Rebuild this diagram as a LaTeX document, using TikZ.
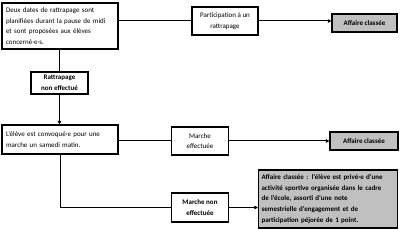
\documentclass[tikz,border=0pt]{standalone}
\usepackage{fontspec}
\setmainfont{Carlito}
\usetikzlibrary{positioning,arrows.meta}
\definecolor{classgrey}{RGB}{192,192,192}

\begin{document}
\begin{tikzpicture}[
  x=1pt,y=-1pt,
  >={Triangle[length=3.5pt,width=3.5pt]},
  font=\fontsize{7}{10.6}\selectfont,
  box/.style={draw,line width=1.1pt,inner sep=3pt,align=center},
  infobox/.style={box,align=left,text width=108pt,minimum width=116pt,minimum height=#1},
  stepbox/.style={box,minimum width=57pt,minimum height=#1},
  outcome/.style={box,fill=classgrey,font=\fontsize{7}{10.6}\selectfont\bfseries},
  link/.style={line width=1pt},
  arrow/.style={->,line width=1pt}
]
\useasboundingbox (0,0) rectangle (400,230);

\node[infobox=46pt] (rattr) at (60,26) {Deux dates de rattrapage sont\\planifiées durant la pause de midi\\et sont proposées aux élèves\\concerné·e·s.};
\node[stepbox=28pt,minimum width=66pt] (part) at (225,21) {Participation à un\\rattrapage};
\node[outcome,minimum width=65pt,minimum height=18pt] (classee1) at (364.5,23) {Affaire classée};
\node[stepbox=22pt,font=\fontsize{7}{10.6}\selectfont\bfseries] (nonrattr) at (59.5,83) {Rattrapage\\non effectué};
\node[infobox=29pt] (marche) at (60,139.5) {L’élève est convoqué·e pour une\\marche un samedi matin.};
\node[stepbox=28pt] (faite) at (200,141) {Marche\\effectuée};
\node[outcome,minimum width=68pt,minimum height=18pt] (classee2) at (364,141) {Affaire classée};
\node[stepbox=29pt,font=\fontsize{7}{10.6}\selectfont\bfseries] (pasfaite) at (200,207.5) {Marche non\\effectuée};
\node[outcome,align=left,text width=133pt,minimum height=58pt] (prive) at (328,199) {Affaire classée : l’élève est privé·e d’une\\activité sportive organisée dans le cadre\\de l’école, assorti d’une note\\semestrielle d’engagement et de\\participation péjorée de 1 point.};

% premier tour
\draw[link] (part.west -| rattr.east) -- (part.west);
\draw[arrow] (part.east) -- (classee1.west |- part.east);
\draw[link] (rattr.south -| nonrattr) -- (nonrattr.north);
\draw[arrow] (nonrattr.south) -- (marche.north -| nonrattr);
% marche du samedi
\draw[link] (faite.west -| marche.east) -- (faite.west);
\draw[arrow] (faite.east) -- (classee2.west |- faite.east);
\draw[link] (marche.south) |- (pasfaite.west);
\draw[arrow] (pasfaite.east) -- (prive.west |- pasfaite.east);
\end{tikzpicture}
\end{document}
